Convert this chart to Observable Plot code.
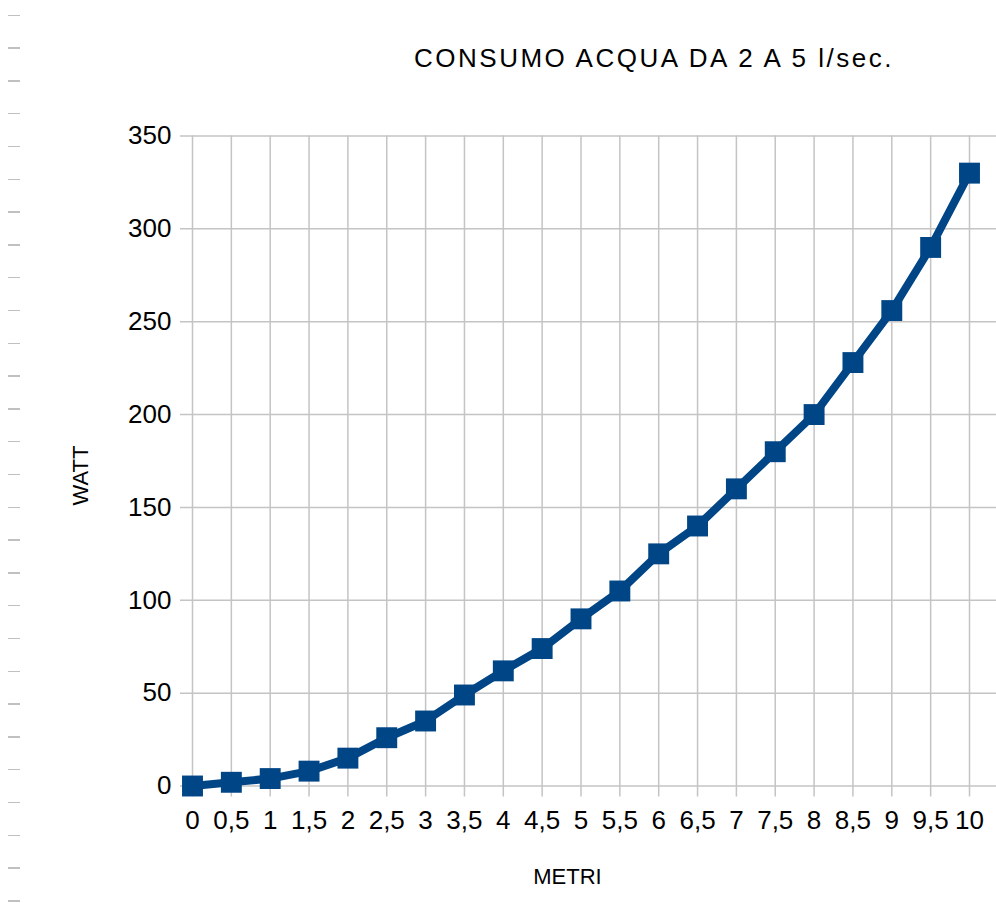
<!DOCTYPE html>
<html>
<head>
<meta charset="utf-8">
<script src="https://cdn.jsdelivr.net/npm/d3@7"></script>
<script src="https://cdn.jsdelivr.net/npm/@observablehq/plot@0.6"></script>
<style>
  html, body { margin: 0; padding: 0; background: #fff; }
  body { width: 996px; height: 903px; position: relative; overflow: hidden; font-family: "Liberation Sans", Arial, sans-serif; }
  #title { height: 100px; box-sizing: border-box; padding-left: 312px; padding-top: 43px; text-align: center; font-size: 26px; letter-spacing: 2.5px; color: #000; line-height: 30px; }
  .row { position: absolute; left: 8px; width: 12px; height: 1.5px; background: #c0c0c0; }
  #chart svg { display: block; }
</style>
</head>
<body>
<div id="rows"></div>
<div id="title">CONSUMO ACQUA DA 2 A 5 l/sec.</div>
<div id="chart"></div>
<script>
const metri = [0, 0.5, 1, 1.5, 2, 2.5, 3, 3.5, 4, 4.5, 5, 5.5, 6, 6.5, 7, 7.5, 8, 8.5, 9, 9.5, 10];
const watt  = [0, 2, 4, 8, 15, 26, 35, 49, 62, 74, 90, 105, 125, 140, 160, 180, 200, 228, 256, 290, 330];
const yTicks = [0, 50, 100, 150, 200, 250, 300, 350];
const titleX = "METRI";
const titleY = "WATT";

// decorative spreadsheet row marks on the far left
const rows = document.getElementById("rows");
for (let i = 0; i < 28; i++) {
  const r = document.createElement("div");
  r.className = "row";
  r.style.top = (14.5 + i * 32.8) + "px";
  rows.appendChild(r);
}

const data = metri.map((m, i) => ({metri: m, watt: watt[i]}));
const blue = "#004586";
const grid = "#c4c4c4";

const chart = Plot.plot({
  width: 996,
  height: 803,
  marginLeft: 192,
  marginRight: 27,
  marginTop: 35.5,
  marginBottom: 117.5,
  style: {fontFamily: "'Liberation Sans', Arial, sans-serif", color: "#000", background: "transparent"},
  x: {type: "point", domain: metri, padding: 0, round: false, label: null},
  y: {domain: [0, 350], label: null},
  marks: [
    Plot.ruleY(yTicks, {stroke: grid, strokeWidth: 1.5, insetLeft: -12, insetRight: -27}),
    Plot.ruleX(metri, {stroke: grid, strokeWidth: 1.5, insetBottom: -11}),
    Plot.axisY({ticks: yTicks, tickSize: 0, tickPadding: 21, fontSize: 26, label: null}),
    Plot.axisX({tickSize: 0, tickPadding: 25, fontSize: 26, label: null,
                tickFormat: d => String(d).replace(".", ",")}),
    Plot.line(data, {x: "metri", y: "watt", stroke: blue, strokeWidth: 8, strokeLinejoin: "round"}),
    Plot.dot(data, {x: "metri", y: "watt", symbol: "square", r: 11.8, fill: blue, stroke: "none"}),
    Plot.text([titleY], {frameAnchor: "left", dx: -112, dy: 44.5, rotate: -90, fontSize: 22, fill: "#000",
                         text: d => d}),
    Plot.text([titleX], {frameAnchor: "bottom", dx: -13.5, dy: 97.5, fontSize: 22, fill: "#000",
                         text: d => d, style: "letter-spacing:1px"})
  ]
});
document.getElementById("chart").appendChild(chart);
</script>
</body>
</html>
